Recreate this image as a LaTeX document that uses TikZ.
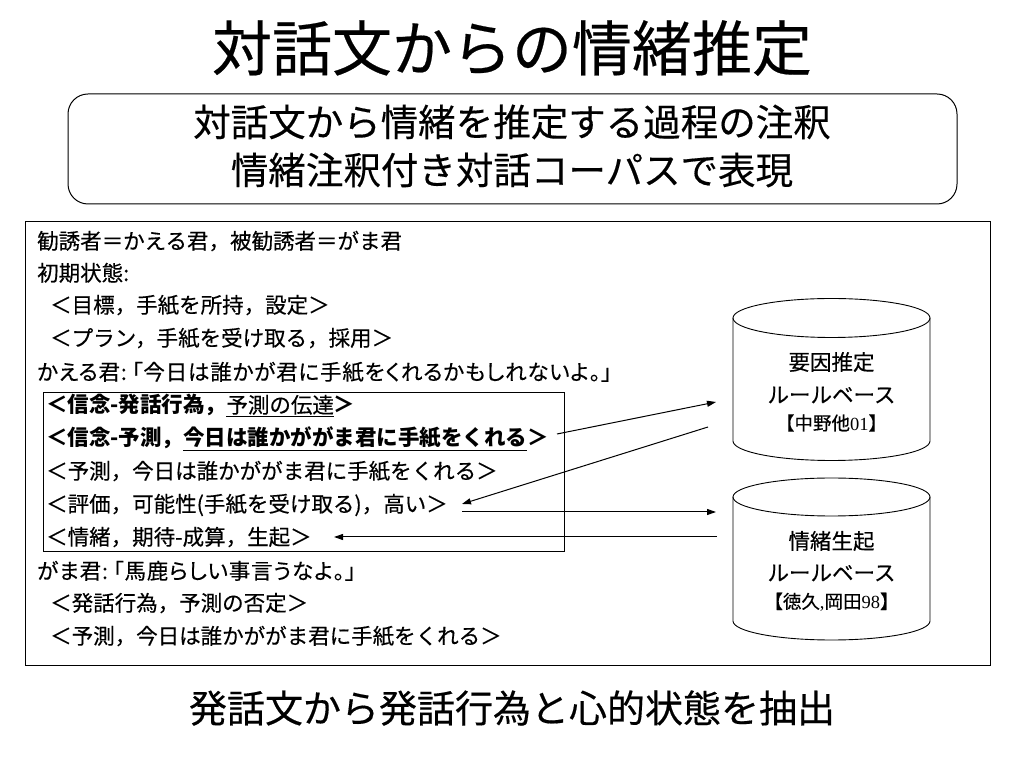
\documentclass[tikz,border=0pt]{standalone}
\usepackage{fontspec}
\setmainfont{Noto Sans CJK JP}[UprightFeatures={FakeBold=0.35}]
\newfontfamily\jpprop{Noto Sans CJK JP}[RawFeature=+palt, FakeBold=0.35, LetterSpace=3.8]
\newfontfamily\serifnum{Liberation Serif}
\usetikzlibrary{arrows.meta}
\tikzset{
  frame/.style={draw=black, line width=1pt},
  txt/.style={anchor=base west, inner sep=0pt, font=\fontsize{21.5}{24}\selectfont},
  ctxt/.style={anchor=center, inner sep=0pt, font=\fontsize{21.5}{24}\selectfont},
  reftxt/.style={anchor=center, inner sep=0pt, font=\fontsize{18.5}{22}\selectfont},
  conn/.style={line width=1pt, -{Triangle[length=9pt,width=6pt]}},
  cyl/.style={draw=black, line width=0.9pt}
}
\begin{document}
\begin{tikzpicture}[x=1pt,y=1pt]
\useasboundingbox (0,0) rectangle (1024,768);
% title
\node[inner sep=0pt, font=\fontsize{60}{70}\selectfont] (title) at (512,720) {対話文からの情緒推定};
% rounded box
\draw[frame, rounded corners=20pt] (68,674) rectangle (957,564);
\node[inner sep=0pt, font=\fontsize{37.5}{44}\selectfont] (sub1) at (512,646) {対話文から情緒を推定する過程の注釈};
\node[inner sep=0pt, font=\fontsize{37.5}{44}\selectfont] (sub2) at (512,598) {情緒注釈付き対話コーパスで表現};
% outer box
\draw[frame] (25,546) rectangle (990,103);
% inner box
\draw[frame] (43,375) rectangle (564,216);
% text lines (baseline = center - 8)
\node[txt] (l1) at (37,519) {勧誘者＝かえる君，被勧誘者＝がま君};
\node[txt] (l2) at (37,487) {初期状態:};
\node[txt] (l3) at (50,455) {＜目標，手紙を所持，設定＞};
\node[txt] (l4) at (50,422) {＜プラン，手紙を受け取る，採用＞};
\node[txt] (l5) at (37,388) {\jpprop かえる君:\hspace{5pt}「今日は誰かが君に手紙をくれるかもしれないよ。」};
\node[txt] (l6) at (46,355) {\bfseries ＜信念-発話行為，\underline{\mdseries 予測の伝達}＞};
\node[txt] (l7) at (46,322) {\bfseries ＜信念-予測，\underline{今日は誰かががま君に手紙をくれる}＞};
\node[txt] (l8) at (46,289) {＜予測，今日は誰かががま君に手紙をくれる＞};
\node[txt] (l9) at (46,256) {＜評価，可能性(手紙を受け取る)，高い＞};
\node[txt] (l10) at (46,223) {＜情緒，期待-成算，生起＞};
\node[txt] (l11) at (37,189) {\jpprop がま君:\hspace{5pt}「馬鹿らしい事言うなよ。」};
\node[txt] (l12) at (50,157) {＜発話行為，予測の否定＞};
\node[txt] (l13) at (50,124) {＜予測，今日は誰かががま君に手紙をくれる＞};
% cylinder 1
\draw[cyl] (733,450) -- (733,327) arc (180:360:98.5pt and 19.5pt) -- (930,450);
\draw[cyl] (831.5,450) ellipse (98.5pt and 19.5pt);
\node[ctxt] (c1a) at (831.5,406) {要因推定};
\node[ctxt] (c1b) at (831.5,373) {ルールベース};
\node[reftxt] (c1c) at (831.5,345) {【中野他{\serifnum 01}】};
% cylinder 2
\draw[cyl] (733,271) -- (733,147) arc (180:360:98.5pt and 19pt) -- (930,271);
\draw[cyl] (831.5,271) ellipse (98.5pt and 19pt);
\node[ctxt] (c2a) at (831.5,227) {情緒生起};
\node[ctxt] (c2b) at (831.5,195) {ルールベース};
\node[reftxt] (c2c) at (831.5,166) {【徳久{\serifnum ,}岡田{\serifnum 98}】};
% arrow endpoints
\coordinate (a1s) at (557,334);
\coordinate (a1e) at (716,366);
\coordinate (a2s) at (708,341);
\coordinate (a2e) at (462,264);
\coordinate (a3s) at (462,256);
\coordinate (a3e) at (716,256);
\coordinate (a4s) at (717,231);
\coordinate (a4e) at (334,231);
\draw[conn] (a1s) -- (a1e);
\draw[conn] (a2s) -- (a2e);
\draw[conn] (a3s) -- (a3e);
\draw[conn] (a4s) -- (a4e);
% bottom caption
\node[inner sep=0pt, font=\fontsize{38}{44}\selectfont] (cap) at (512,60) {発話文から発話行為と心的状態を抽出};
\end{tikzpicture}
\end{document}
